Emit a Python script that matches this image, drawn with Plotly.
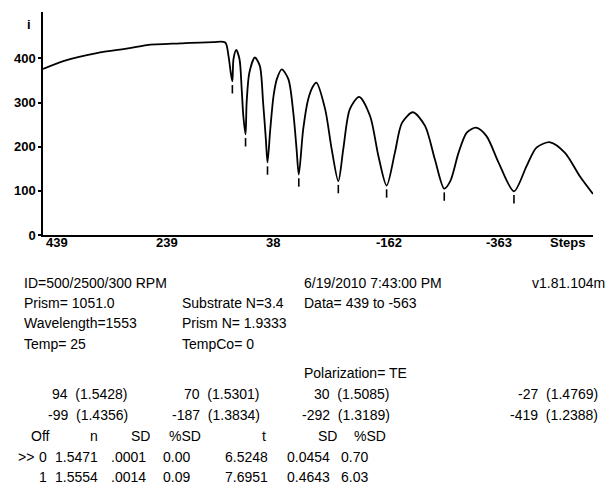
import plotly.graph_objects as go

# ---------------- data ----------------
steps = [439, 402, 341, 281, 250, 189, 129, 107, 101, 97, 94, 92, 87, 81, 77, 74, 70,
         68, 63, 53, 44, 38, 33, 30, 25, 19, 13, 4, -8, -17, -23, -27, -35, -44, -53,
         -59, -75, -87, -99, -108, -120, -137, -157, -172, -187, -202, -215, -235,
         -257, -275, -292, -303, -318, -333, -350, -369, -391, -419, -442, -460,
         -485, -512, -539, -563]
intensity = [376, 394, 412, 423, 430, 434, 437, 436, 405, 368, 348, 398, 419, 398, 330,
             269, 228, 300, 368, 402, 383, 300, 217, 164, 239, 315, 353, 375, 353, 277,
             194, 137, 239, 307, 337, 345, 285, 194, 122, 194, 285, 313, 269, 179, 112,
             186, 254, 278, 247, 171, 105, 122, 186, 232, 243, 224, 164, 99, 156, 198,
             210, 186, 133, 93]

mode_steps = [94, 70, 30, -27, -99, -187, -292, -419]
mode_index = [1.5428, 1.5301, 1.5085, 1.4769, 1.4356, 1.3834, 1.3189, 1.2388]
mode_intensity = [348, 228, 164, 137, 122, 112, 105, 99]

x_tick_vals = [439, 239, 38, -162, -363]
y_tick_vals = [0, 100, 200, 300, 400]

info_left = ["ID=500/2500/300 RPM", "Prism= 1051.0", "Wavelength=1553", "Temp= 25"]
info_mid = ["Substrate N=3.4", "Prism N= 1.9333", "TempCo= 0"]
info_right = ["6/19/2010 7:43:00 PM", "Data= 439 to -563"]
version = "v1.81.104m"
polarization = "Polarization= TE"

table_header = ["Off", "n", "SD", "%SD", "t", "SD", "%SD"]
table_rows = [
    [">>", "0", "1.5471", ".0001", "0.00", "6.5248", "0.0454", "0.70"],
    ["", "1", "1.5554", ".0014", "0.09", "7.6951", "0.4643", "6.03"],
]

# ---------------- figure ----------------
FONT = "Liberation Sans, Arial, sans-serif"
L, R, T, B = 43, 16, 12, 265
W, H = 609, 500
PW, PH = W - L - R, H - T - B


def fx(px):
    return (px - L) / PW


def fy(py):
    return (H - B - py) / PH


fig = go.Figure()
fig.add_trace(go.Scatter(x=steps, y=intensity, mode="lines",
                         line=dict(color="black", width=1.8, shape="spline", smoothing=0.8),
                         hoverinfo="skip"))
fig.add_trace(go.Scatter(x=mode_steps, y=[v - 18 for v in mode_intensity], mode="markers",
                         marker=dict(symbol="line-ns", size=6,
                                     line=dict(color="black", width=1.6)),
                         hoverinfo="skip"))

TICKF = dict(family=FONT, size=13, color="black", weight="bold")
ann = []
# x tick labels (left-aligned at tick positions)
for v in x_tick_vals:
    ann.append(dict(x=v, xref="x", y=fy(242), yref="paper", text=str(v), showarrow=False,
                    xanchor="left", yanchor="middle", xshift=1, font=TICKF))
ann.append(dict(x=fx(548), xref="paper", y=fy(242), yref="paper", text="Steps",
                showarrow=False, xanchor="left", yanchor="middle", font=TICKF))
ann.append(dict(x=fx(29), xref="paper", y=fy(24), yref="paper", text="i",
                showarrow=False, xanchor="center", yanchor="middle", font=TICKF))

TF = dict(family=FONT, size=14, color="black")
row_y = [283, 303, 323, 344]
for i, t in enumerate(info_left):
    ann.append(dict(x=fx(22), y=fy(row_y[i]), text=t, xanchor="left"))
for i, t in enumerate(info_mid):
    ann.append(dict(x=fx(180), y=fy(row_y[i + 1]), text=t, xanchor="left"))
for i, t in enumerate(info_right):
    ann.append(dict(x=fx(302), y=fy(row_y[i]), text=t, xanchor="left"))
ann.append(dict(x=fx(607), y=fy(row_y[0]), text=version, xanchor="right"))
ann.append(dict(x=fx(302), y=fy(373), text=polarization, xanchor="left"))

# mode list: 4 per row, right aligned
mode_right = [130, 262, 392, 600]
mode_row_y = [394, 415]
for k, (s, n) in enumerate(zip(mode_steps, mode_index)):
    r, c = divmod(k, 4)
    ann.append(dict(x=fx(mode_right[c]), y=fy(mode_row_y[r]),
                    text=f"{s}  ({n:.4f})", xanchor="right"))

# table header
head_x = [40, 94, 140, 185, 264, 327, 370]
for t, x in zip(table_header, head_x):
    ann.append(dict(x=fx(x), y=fy(436), text=t, xanchor="center"))
# table rows
cell_x = [(16, "left"), (43, "center"), (53, "left"), (148, "right"), (192, "right"),
          (270, "right"), (332, "right"), (370, "right")]
for r, row in enumerate(table_rows):
    for t, (x, a) in zip(row, cell_x):
        if t:
            ann.append(dict(x=fx(x), y=fy(457 + 20 * r), text=t, xanchor=a))

for a in ann:
    a.setdefault("xref", "paper")
    a.setdefault("yref", "paper")
    a.setdefault("showarrow", False)
    a.setdefault("yanchor", "middle")
    a.setdefault("font", TF)

fig.update_layout(
    width=W, height=H, margin=dict(l=L, r=R, t=T, b=B),
    paper_bgcolor="white", plot_bgcolor="white", showlegend=False,
    annotations=ann,
    xaxis=dict(range=[439, -563], showline=True, linecolor="black", linewidth=1.5,
               showgrid=False, zeroline=False, showticklabels=False, ticks=""),
    yaxis=dict(range=[0, 505], showline=True, linecolor="black", linewidth=1.5,
               showgrid=False, zeroline=False, tickvals=y_tick_vals,
               ticks="outside", ticklen=3, tickwidth=1.5, tickcolor="black",
               tickfont=TICKF),
)

fig.write_html("out.html")
